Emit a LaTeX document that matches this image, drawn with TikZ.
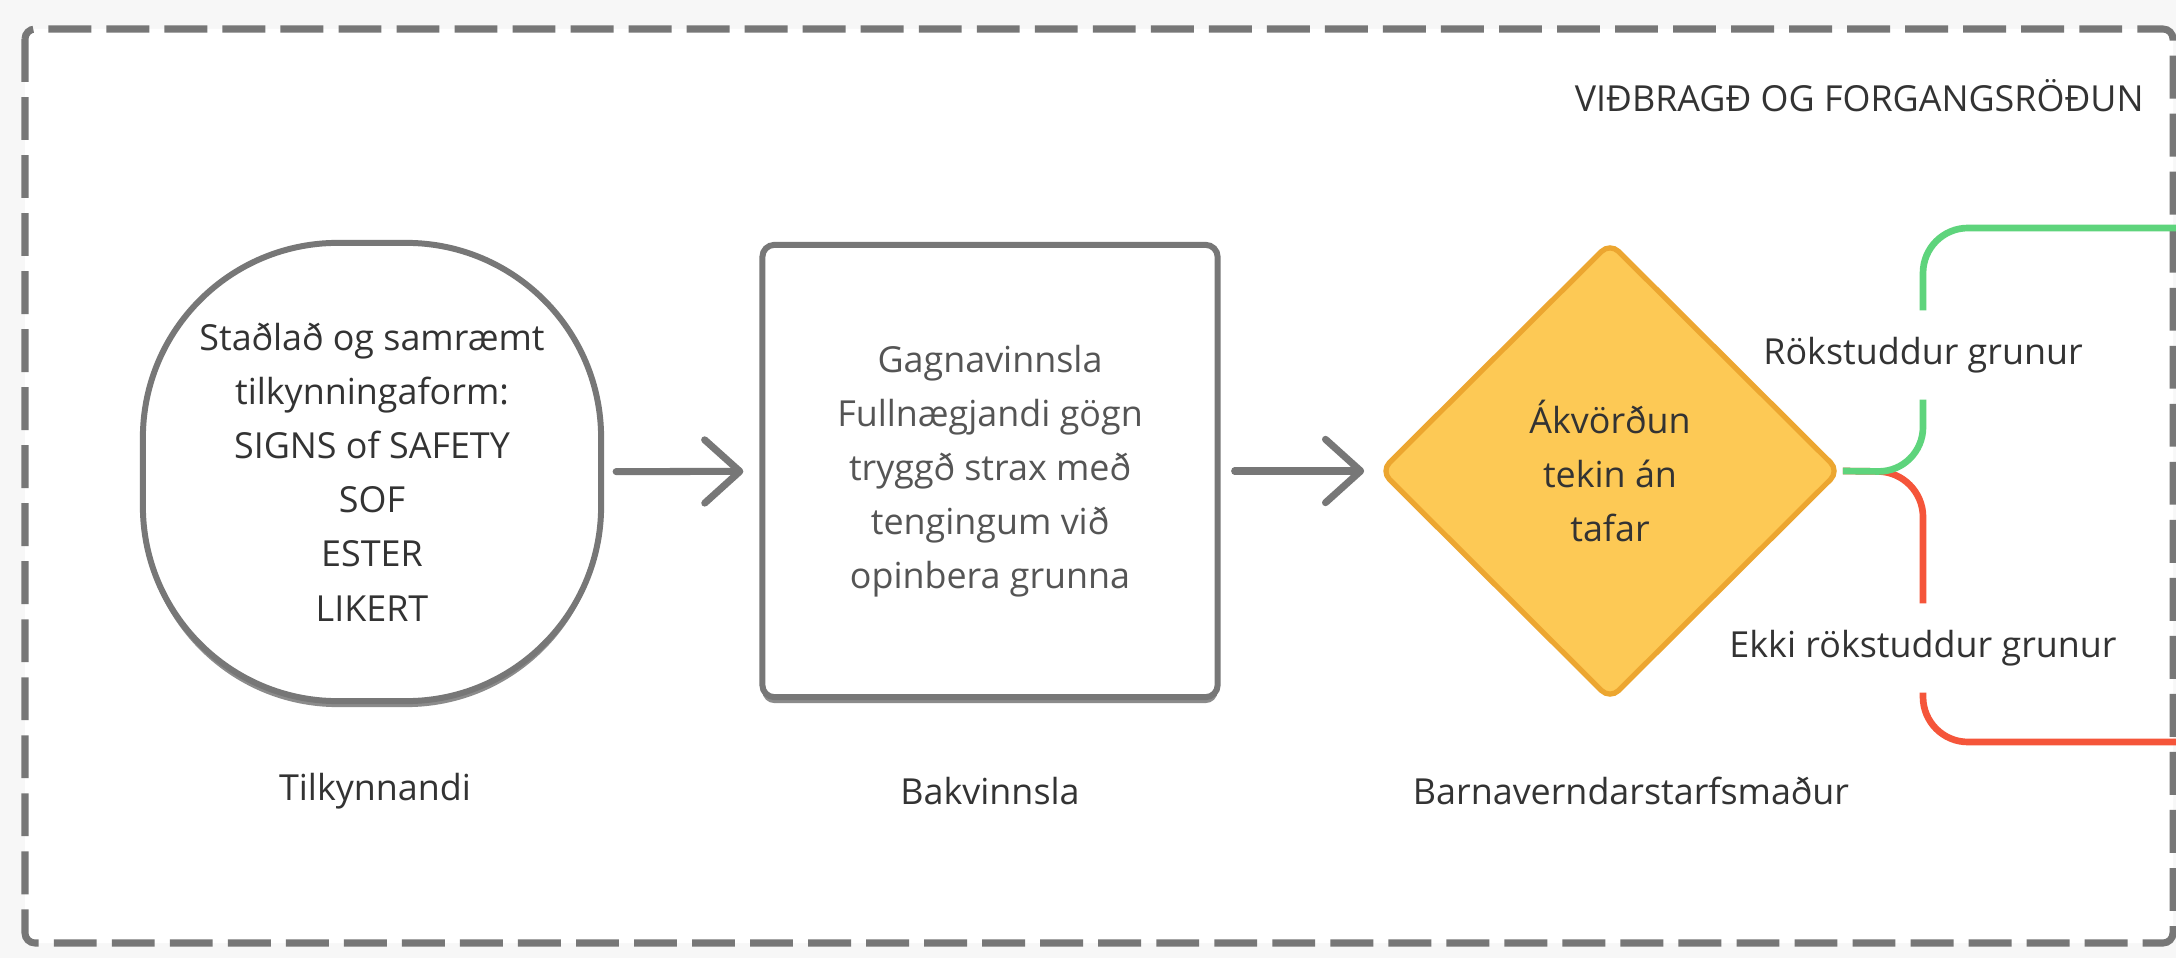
\documentclass[tikz,border=0pt]{standalone}
\usepackage{fontspec}
\setmainfont{Open Sans}
\usetikzlibrary{arrows.meta,shapes.geometric,shadows}

\definecolor{frame}{HTML}{777777}
\definecolor{paper}{HTML}{F7F7F7}
\definecolor{ink}{HTML}{333333}
\definecolor{inkgray}{HTML}{555555}
\definecolor{gulur}{HTML}{FDC955}
\definecolor{gulbrun}{HTML}{ECA630}
\definecolor{graenn}{HTML}{5ED47C}
\definecolor{raudur}{HTML}{F5553A}

\begin{document}
\begin{tikzpicture}[x=0.01cm, y=-0.01cm, font=\fontsize{10.2pt}{15.4pt}\selectfont, text=ink,
  skref/.style = {draw=frame, line width=1.7pt, fill=white, align=center, drop shadow={shadow xshift=0pt, shadow yshift=-1.7pt, fill=frame!85, opacity=1}},
  flaedi/.style = {line width=2pt, frame, line cap=round, -{Straight Barb[length=10pt, width=18pt, round]}},
  grein/.style = {line width=1.9pt, rounded corners=4.5mm},
  merki/.style = {minimum height=8.8mm, inner xsep=2pt}]

    % bakgrunnur og rammi
    \useasboundingbox (0,0) rectangle (2176,958);
    \fill[paper] (0,0) rectangle (2176,958);
    \draw[frame, fill=white, line width=2pt, rounded corners=1mm, dash pattern=on 12.2pt off 4.3pt] (25,29) rectangle (2173,943);
    \node[anchor=east] (titill) at (2156,96) {VIÐBRAGÐ OG FORGANGSRÖÐUN};

    % skref
    \node[skref, rounded corners=19.5mm, minimum width=45.8mm, minimum height=45.8mm] (tk) at (372,472) {Staðlað og samræmt\\ tilkynningaform:\\ SIGNS of SAFETY\\ SOF\\ ESTER\\ LIKERT};
    \node[skref, rounded corners=1.2mm, minimum width=45.5mm, minimum height=45.2mm, text=inkgray] (bv) at (990,471) {Gagnavinnsla\\ Fullnægjandi gögn\\ tryggð strax með\\ tengingum við\\ opinbera grunna};
    \node[diamond, shape aspect=1, draw=gulbrun, fill=gulur, line width=1.5pt, rounded corners=1.2mm, minimum width=46mm, minimum height=45.8mm, inner sep=0pt, align=center] (ak) at (1610,471) {Ákvörðun\\ tekin án\\ tafar};

    % hlutverk
    \node (tkm) at (375,791) {Tilkynnandi};
    \node (bvm) at (990,791) {Bakvinnsla};
    \node (akm) at (1631,791) {Barnaverndarstarfsmaður};

    % örvar
    \draw[flaedi, shorten <=1.2mm, shorten >=1.6mm] (tk) -- (bv);
    \draw[flaedi, shorten <=1.4mm, shorten >=1.3mm] (bv) -- (ak);

    % greinar
    \coordinate (gaffall) at (1923,472);
    \coordinate (jaend) at (2176,228);
    \coordinate (neiend) at (2176,742);
    \node[merki] (rok) at (1923,355) {Rökstuddur grunur};
    \node[merki] (ekki) at (1923,648) {Ekki rökstuddur grunur};
    \draw[grein, raudur] (ak.east) -- (gaffall) -- (ekki.north);
    \draw[grein, raudur] (ekki.south) |- (neiend);
    \draw[grein, graenn] (ak.east) -- (gaffall) -- (rok.south);
    \draw[grein, graenn] (rok.north) |- (jaend);

\end{tikzpicture}
\end{document}
